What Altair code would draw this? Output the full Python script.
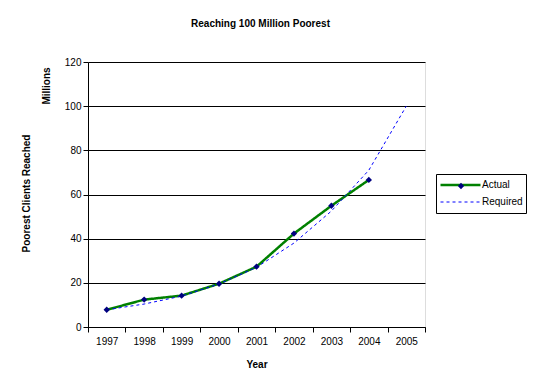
import altair as alt
import pandas as pd

years = ["1997", "1998", "1999", "2000", "2001", "2002", "2003", "2004", "2005"]
actual = [7.8, 12.4, 14.2, 19.6, 27.3, 42.3, 54.9, 66.6]
required = [7.8, 10.4, 14.0, 19.5, 27.0, 38.0, 52.5, 71.0, 100.0]
series = ["Actual", "Required"]
series_colors = ["#008000", "#0000FF"]
y_ticks = [0, 20, 40, 60, 80, 100, 120]

rows = [{"Year": y, "Series": "Actual", "Value": v} for y, v in zip(years, actual)]
rows += [{"Year": y, "Series": "Required", "Value": v} for y, v in zip(years, required)]
df = pd.DataFrame(rows)
df["Marker"] = df["Series"]

FONT = "Liberation Sans"

x_enc = alt.X(
    "Year:O",
    sort=years,
    scale=alt.Scale(type="band", domain=years, paddingInner=0, paddingOuter=0),
    axis=alt.Axis(
        title="Year", tickBand="extent", labelAngle=0, grid=False,
        domainColor="black", tickColor="black", tickSize=5,
        labelFont=FONT, labelFontSize=10, labelColor="black", labelPadding=4,
        titleFont=FONT, titleFontSize=10, titleFontWeight="bold", titleColor="black",
        titleX=168.5, titleY=37, titleBaseline="middle", titleAlign="center",
    ),
)
y_enc = alt.Y(
    "Value:Q",
    scale=alt.Scale(domain=[0, 120], nice=False),
    axis=alt.Axis(
        title="Poorest Clients Reached", values=y_ticks, grid=True,
        gridColor="black", gridOpacity=1, gridWidth=1,
        domainColor="black", tickColor="black", tickSize=5,
        labelFont=FONT, labelFontSize=10, labelColor="black", labelPadding=2,
        titleFont=FONT, titleFontSize=10, titleFontWeight="bold", titleColor="black",
        titleX=-62, titleY=131, titleAngle=270, titleBaseline="middle", titleAlign="center",
    ),
)

legend_lines = alt.Legend(
    orient="none", legendX=348, legendY=112, title=None,
    strokeColor="black", fillColor="white", padding=3,
    symbolType="stroke", symbolSize=1600, symbolStrokeWidth=2, clipHeight=16,
    symbolOffset=0, labelOffset=0, rowPadding=1,
    labelFont=FONT, labelFontSize=10, labelColor="black",
)

lines = alt.Chart(df).mark_line().encode(
    x=x_enc,
    y=y_enc,
    color=alt.Color("Series:N", scale=alt.Scale(domain=series, range=series_colors), legend=legend_lines),
    strokeDash=alt.StrokeDash("Series:N", scale=alt.Scale(domain=series, range=[[1, 0], [3, 3]]), legend=legend_lines),
    strokeWidth=alt.StrokeWidth("Series:N", scale=alt.Scale(domain=series, range=[2.5, 1]), legend=None),
)

points = alt.Chart(df).transform_filter(
    alt.datum.Series == "Actual"
).mark_point(filled=True, color="#000080", size=40, opacity=1).encode(
    x=x_enc,
    y=y_enc,
    shape=alt.Shape(
        "Marker:N",
        scale=alt.Scale(domain=["Actual"], range=["diamond"]),
        legend=alt.Legend(
            orient="none", legendX=368, legendY=119, title=None, padding=0,
            symbolFillColor="#000080", symbolStrokeColor="#000080", symbolSize=40,
            labelExpr="''", labelFontSize=10,
        ),
    ),
)

millions = alt.Chart(pd.DataFrame({"t": ["Millions"]})).mark_text(
    font=FONT, fontSize=10, fontWeight="bold", angle=270, color="black", baseline="middle", align="center"
).encode(text="t:N", x=alt.value(-41), y=alt.value(24))

chart = alt.layer(lines, points, millions).properties(
    width=337, height=265,
    title=alt.Title("Reaching 100 Million Poorest", font=FONT, fontSize=10, fontWeight="bold",
                    color="black", anchor="middle", offset=28, dx=4),
    autosize=alt.AutoSizeParams(type="none"),
    padding={"left": 88, "top": 62, "right": 115, "bottom": 65},
).configure_view(stroke="black", strokeWidth=1).configure(background="white")

chart.save("out.html", embed_options={"renderer": "svg", "actions": False})
